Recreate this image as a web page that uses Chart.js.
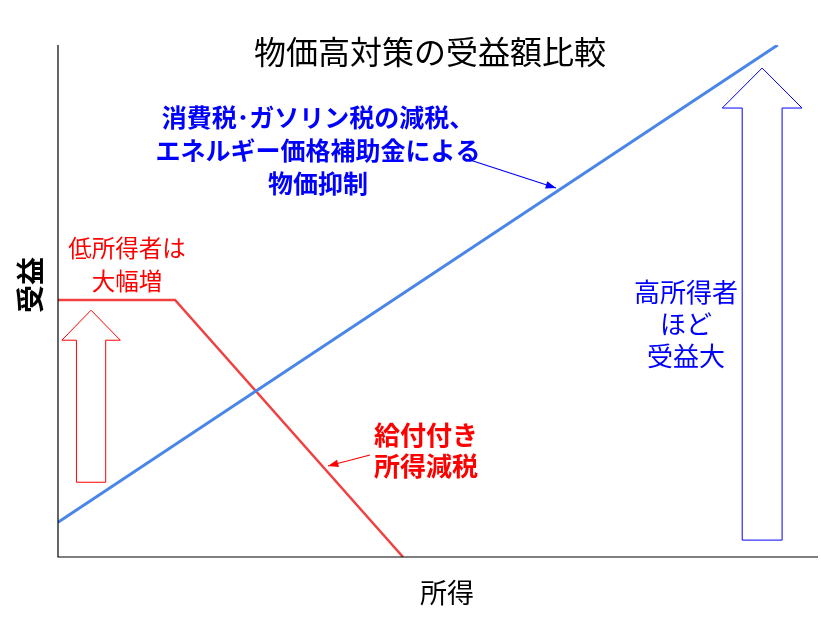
<!DOCTYPE html>
<html><head><meta charset="utf-8">
<script src="https://cdn.jsdelivr.net/npm/chart.js@4"></script>
<style>html,body{margin:0;padding:0;background:#fff}#w{width:821px;height:618px}</style>
</head><body><div id="w"><canvas id="c"></canvas></div>
<script>
const blueX=[0,94.7], blueY=[6.8,100];
const redX=[0,15.4,45.4], redY=[50.2,50.2,0];
const title='物価高対策の受益額比較';
const xLabel='所得', yLabel='受益';
const blueNote=['消費税･ガソリン税の減税、','エネルギー価格補助金による','物価抑制'];
const redNote1=['低所得者は','大幅増'];
const redNote2=['給付付き','所得減税'];
const highNote=['高所得者','ほど','受益大'];
const FONT='"Noto Sans CJK JP", sans-serif';

function arrow(ctx,x1,y1,x2,y2,col){
  ctx.save();ctx.strokeStyle=col;ctx.fillStyle=col;ctx.lineWidth=1.2;
  ctx.beginPath();ctx.moveTo(x1,y1);ctx.lineTo(x2,y2);ctx.stroke();
  const a=Math.atan2(y2-y1,x2-x1),L=11;
  ctx.beginPath();ctx.moveTo(x2,y2);
  ctx.lineTo(x2-L*Math.cos(a-0.35),y2-L*Math.sin(a-0.35));
  ctx.lineTo(x2-L*Math.cos(a+0.35),y2-L*Math.sin(a+0.35));ctx.closePath();ctx.fill();
  ctx.restore();
}
function bigArrow(ctx,xs,ys,x0,x1,yTop,yBot,hw,col){
  const l=xs.getPixelForValue(x0),r=xs.getPixelForValue(x1);
  const t=ys.getPixelForValue(yTop),b=ys.getPixelForValue(yBot);
  const w=r-l,sw=w*0.5,cx=(l+r)/2,hh=hw;
  ctx.save();ctx.strokeStyle=col;ctx.fillStyle='#fff';ctx.lineWidth=1;
  ctx.beginPath();ctx.moveTo(cx,t);ctx.lineTo(r,t+hh);ctx.lineTo(cx+sw/2,t+hh);ctx.lineTo(cx+sw/2,b);
  ctx.lineTo(cx-sw/2,b);ctx.lineTo(cx-sw/2,t+hh);ctx.lineTo(l,t+hh);ctx.closePath();ctx.fill();ctx.stroke();
  ctx.restore();
}
const deco={id:'deco',afterDraw(ch){
  const ctx=ch.ctx,xs=ch.scales.x,ys=ch.scales.y;
  ctx.save();ctx.textAlign='center';ctx.textBaseline='middle';
  ctx.fillStyle='#000';ctx.font='32px '+FONT;ctx.fillText(title,430,52);
  ctx.font='27px '+FONT;ctx.fillText(xLabel,447,593);
  ctx.save();ctx.translate(30,285);ctx.rotate(-Math.PI/2);ctx.font='bold 28px '+FONT;ctx.fillText(yLabel,0,0);ctx.restore();
  ctx.fillStyle='#0000ff';ctx.font='bold 25px '+FONT;
  blueNote.forEach((s,i)=>ctx.fillText(s,318,117+i*33));
  ctx.font='26px '+FONT;
  highNote.forEach((s,i)=>ctx.fillText(s,686,292+i*32));
  ctx.fillStyle='#ff0000';ctx.font='23.5px '+FONT;
  redNote1.forEach((s,i)=>ctx.fillText(s,127,248+i*33));
  ctx.font='bold 26px '+FONT;
  redNote2.forEach((s,i)=>ctx.fillText(s,426,435+i*31));
  ctx.restore();
  arrow(ctx,470,160,556,188,'#0000ff');
  arrow(ctx,370,455,328,466,'#ff0000');
  bigArrow(ctx,xs,ys,0.5,8.2,48.2,14.6,30,'#ff0000');
  bigArrow(ctx,xs,ys,87.4,97.9,95.5,3.3,40,'#0000ff');
  ctx.save();ctx.strokeStyle='#000';ctx.lineWidth=1.2;ctx.beginPath();
  ctx.moveTo(xs.left,ys.top);ctx.lineTo(xs.left,ys.bottom);ctx.lineTo(xs.right,ys.bottom);ctx.stroke();ctx.restore();
}};
new Chart(document.getElementById('c'),{
  type:'line',
  data:{datasets:[
    {data:blueX.map((x,i)=>({x,y:blueY[i]})),borderColor:'#4a86e8',borderWidth:3,pointRadius:0,tension:0},
    {data:redX.map((x,i)=>({x,y:redY[i]})),borderColor:'#f04040',borderWidth:2.5,pointRadius:0,tension:0}
  ]},
  options:{responsive:true,maintainAspectRatio:false,animation:false,
    layout:{padding:{left:58,right:3,top:45,bottom:61}},
    plugins:{legend:{display:false},tooltip:{enabled:false}},
    scales:{x:{type:'linear',min:0,max:100,display:false},y:{min:0,max:100,display:false}}},
  plugins:[deco]
});
</script></body></html>
